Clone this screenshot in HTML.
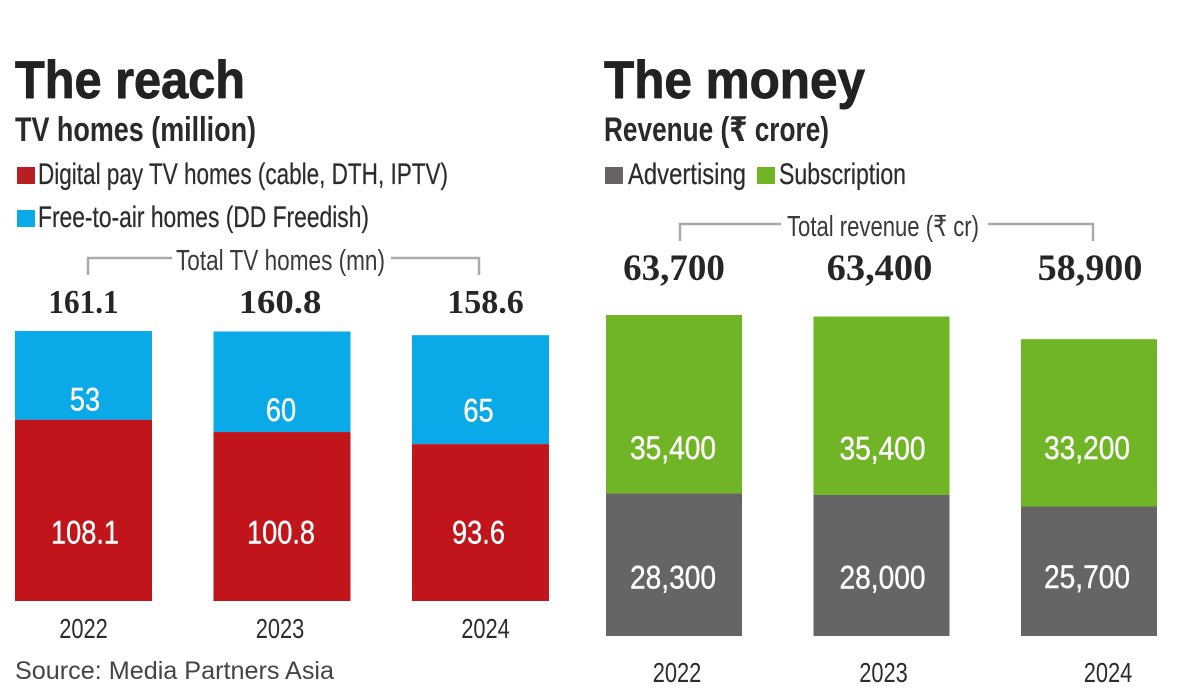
<!DOCTYPE html>
<html lang="en">
<head>
<meta charset="utf-8">
<title>The reach and the money</title>
<style>
html,body{margin:0;padding:0;background:#fff;width:1179px;height:699px;overflow:hidden}
svg{display:block}
text{font-family:"Liberation Sans","DejaVu Sans",sans-serif}
.title{font-size:53px;font-weight:700;fill:#222;stroke:#222;stroke-width:0.9}
.sub{font-size:34px;font-weight:700;fill:#2a2a2a}
.leg{font-size:30px;fill:#2c2c2c;stroke:#2c2c2c;stroke-width:0.25}
.note{font-size:29px;fill:#3a3a3a}
.src{font-size:25px;fill:#444}
.br{fill:none;stroke:#aaa;stroke-width:2.5}
.total{font-family:"Liberation Serif",serif;font-weight:700;fill:#262626}
.val{fill:#fff;font-size:32px;text-anchor:middle;stroke:#fff;stroke-width:0.4}
.yr{fill:#2c2c2c;font-size:28px;text-anchor:middle}
</style>
</head>
<body>
<svg id="chart" width="1179" height="699" viewBox="0 0 1179 699" xmlns="http://www.w3.org/2000/svg">
  <text class="title" x="15" y="98" textLength="230" lengthAdjust="spacingAndGlyphs">The reach</text>
  <text class="sub" x="15" y="141" textLength="241" lengthAdjust="spacingAndGlyphs">TV homes (million)</text>
  <rect x="17" y="167" width="18" height="17" fill="#b81f22"></rect>
  <text class="leg" x="38" y="184" textLength="410" lengthAdjust="spacingAndGlyphs">Digital pay TV homes (cable, DTH, IPTV)</text>
  <rect x="17" y="210" width="18" height="17" fill="#0aa9e8"></rect>
  <text class="leg" x="38" y="227" textLength="331" lengthAdjust="spacingAndGlyphs">Free-to-air homes (DD Freedish)</text>
  <path class="br" d="M88 275V258H172"></path>
  <path class="br" d="M391 258H479V275"></path>
  <text class="note" x="176" y="270" textLength="209" lengthAdjust="spacingAndGlyphs">Total TV homes (mn)</text>
  <text class="src" x="15" y="679" textLength="319" lengthAdjust="spacingAndGlyphs">Source: Media Partners Asia</text>

  <text class="title" x="604" y="98" textLength="261" lengthAdjust="spacingAndGlyphs">The money</text>
  <text class="sub" x="604" y="141" textLength="225" lengthAdjust="spacingAndGlyphs">Revenue (₹ crore)</text>
  <rect x="605" y="167" width="18" height="17" fill="#666464"></rect>
  <text class="leg" x="628" y="184" textLength="118" lengthAdjust="spacingAndGlyphs">Advertising</text>
  <rect x="757" y="167" width="18" height="17" fill="#6fb525"></rect>
  <text class="leg" x="779" y="184" textLength="127" lengthAdjust="spacingAndGlyphs">Subscription</text>
  <path class="br" d="M680 241V224H781"></path>
  <path class="br" d="M988 224H1093V241"></path>
  <text class="note" x="787" y="236" textLength="192" lengthAdjust="spacingAndGlyphs">Total revenue (₹ cr)</text>
</svg>
<script>
const years = ['2022', '2023', '2024'];
const digitalPayHomes = [108.1, 100.8, 93.6];
const freeToAirHomes = [53, 60, 65];
const totalHomesLabels = ['161.1', '160.8', '158.6'];
const advertisingRevenue = [28300, 28000, 25700];
const subscriptionRevenue = [35400, 35400, 33200];
const totalRevenueLabels = ['63,700', '63,400', '58,900'];

const svg = document.getElementById('chart');
const NS = 'http://www.w3.org/2000/svg';

function fmtHomes(v) { return String(v); }
function fmtRevenue(v) { return v.toLocaleString('en-US'); }

function addRect(x, y, w, h, fill, name) {
  const el = document.createElementNS(NS, 'rect');
  el.setAttribute('x', x);
  el.setAttribute('y', y);
  el.setAttribute('width', w);
  el.setAttribute('height', h);
  el.setAttribute('fill', fill);
  
  
  svg.appendChild(el);
}

function addText(str, cx, y, cls, sx, size, name) {
  const el = document.createElementNS(NS, 'text');
  el.setAttribute('class', cls);
  el.setAttribute('text-anchor', 'middle');
  el.setAttribute('transform', 'translate(' + cx + ' ' + y + ') scale(' + sx + ' 1)');
  if (size) el.setAttribute('font-size', size);
  
  
  el.textContent = str;
  svg.appendChild(el);
}

function drawPanel(p) {
  const xAt = i => p.x0 + i * p.step;
  const h = v => v * p.k;
  years.forEach((year, i) => {
    const x = xAt(i);
    const cx = x + p.barW / 2;
    const lowerH = h(p.lower[i]);
    const upperH = h(p.upper[i]);
    const lowerTop = p.base - lowerH;
    const upperTop = lowerTop - upperH;
    addRect(x, upperTop, p.barW, upperH, p.upperColor, 'bar-' + p.upperName + '-' + year);
    addRect(x, lowerTop, p.barW, lowerH, p.lowerColor, 'bar-' + p.lowerName + '-' + year);
    addText(p.fmt(p.upper[i]), cx + p.valNudgeX[i], upperTop + upperH / 2 + p.labelDrop + p.upperDrop[i], 'val', p.valScale, 0, 'value-' + p.upperName + '-' + year);
    addText(p.fmt(p.lower[i]), cx + p.valNudgeX[i], lowerTop + lowerH / 2 + p.labelDrop + p.lowerDrop[i], 'val', p.valScale, 0, 'value-' + p.lowerName + '-' + year);
    addText(p.totals[i], cx + p.totalNudge[i], p.totalY, 'total', p.totalScale[i], p.totalSize, 'total-' + p.id + '-' + year);
    addText(year, cx + p.yearNudge[i], p.yearY, 'yr', 0.78, 0, 'x-tick-' + p.id + '-' + year);
  });
}

drawPanel({
  id: 'homes', x0: 15, step: 198.5, barW: 137, base: 601, k: 270 / 161.1,
  lower: digitalPayHomes, upper: freeToAirHomes, totals: totalHomesLabels,
  lowerColor: '#c1151b', upperColor: '#0aa9e8',
  lowerName: 'digital-pay', upperName: 'free-to-air',
  fmt: fmtHomes, valScale: 0.85, labelDrop: 11,
  upperDrop: [24, 28, 21], lowerDrop: [22, 16, 10], valNudgeX: [1.5, -1, -2],
  totalY: 313, totalSize: 34, totalScale: [0.92, 1.08, 1], yearY: 638,
  totalNudge: [0, -2, 5], yearNudge: [0, -2, 5]
});

drawPanel({
  id: 'revenue', x0: 606, step: 207.5, barW: 136, base: 636, k: 321 / 63700,
  lower: advertisingRevenue, upper: subscriptionRevenue, totals: totalRevenueLabels,
  lowerColor: '#666464', upperColor: '#6fb525',
  lowerName: 'advertising', upperName: 'subscription',
  fmt: fmtRevenue, valScale: 0.88, labelDrop: 11,
  upperDrop: [44, 43, 25], lowerDrop: [13, 12, 6], valNudgeX: [-1, 1, -2],
  totalY: 280, totalSize: 37, totalScale: [1, 1.04, 1.03], yearY: 682,
  totalNudge: [0, -2, 1], yearNudge: [3, 2, 19]
});
</script>
</body>
</html>
